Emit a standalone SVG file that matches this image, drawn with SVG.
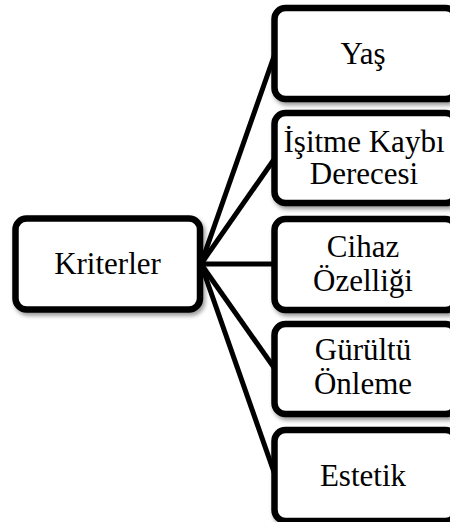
<svg xmlns="http://www.w3.org/2000/svg" width="450" height="522" viewBox="0 0 450 522">
<defs>
<filter id="sh" x="-10%" y="-10%" width="130%" height="130%">
<feDropShadow dx="2" dy="3" stdDeviation="2" flood-color="#000" flood-opacity="0.4"/>
</filter>
<style>
.box{fill:#fff;stroke:#000;stroke-width:6.5;filter:url(#sh)}
.t{font-size:31px;fill:#000;text-anchor:middle}
.c{stroke:#000;stroke-width:5;fill:none}
</style>
</defs>
<rect width="450" height="522" fill="#fff"/>
<g id="connectors">
<line class="c" x1="201" y1="264" x2="275" y2="53.5"/>
<line class="c" x1="201" y1="264" x2="275" y2="158"/>
<line class="c" x1="201" y1="264" x2="275" y2="264"/>
<line class="c" x1="201" y1="264" x2="275" y2="369"/>
<line class="c" x1="201" y1="264" x2="275" y2="475"/>
</g>
<g font-family="'Liberation Serif', 'Times New Roman', 'DejaVu Serif', serif">
<g id="kriterler">
<rect class="box" x="15.5" y="218.5" width="184.5" height="91" rx="11"/>
<text class="t" x="107.5" y="274">Kriterler</text>
</g>
<g id="yas">
<rect class="box" x="274.5" y="8" width="182" height="91" rx="11"/>
<text class="t" x="363" y="63.5">Yaş</text>
</g>
<g id="isitme">
<rect class="box" x="274.5" y="113" width="182" height="90" rx="11"/>
<text class="t" x="364" y="151.5">İşitme Kaybı</text>
<text class="t" x="364" y="184">Derecesi</text>
</g>
<g id="cihaz">
<rect class="box" x="274.5" y="219" width="182" height="91" rx="11"/>
<text class="t" x="363" y="257">Cihaz</text>
<text class="t" x="363" y="291">Özelliği</text>
</g>
<g id="gurultu">
<rect class="box" x="274.5" y="324" width="182" height="90" rx="11"/>
<text class="t" x="363" y="360">Gürültü</text>
<text class="t" x="363" y="394">Önleme</text>
</g>
<g id="estetik">
<rect class="box" x="274.5" y="430" width="182" height="91" rx="11"/>
<text class="t" x="363" y="486">Estetik</text>
</g>
</g>
</svg>
